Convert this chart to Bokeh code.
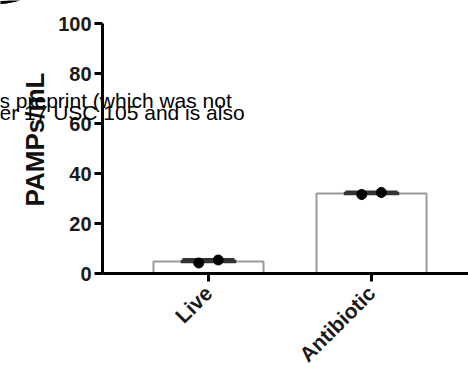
import numpy as np
from bokeh.plotting import figure
from bokeh.models import Range1d, FixedTicker, Label, ColumnDataSource, Whisker
from bokeh.embed import file_html
from bokeh.resources import INLINE

# PAMP concentration per condition (two replicates each)
categories = ["Live", "Antibiotic"]
live_values = [4.2, 5.4]
antibiotic_values = [31.6, 32.4]
y_ticks = [0, 20, 40, 60, 80, 100]

groups = [live_values, antibiotic_values]
xpos = np.arange(1, len(categories) + 1)
means = [float(np.mean(g)) for g in groups]
sds = [float(np.std(g, ddof=1)) for g in groups]

FONT = "Liberation Sans"
W, H = 468, 383
# the frame fills the canvas; axes sit at fixed data locations inside it
X_LO, X_HI = -0.276, 2.595
Y_LO, Y_HI = -44.0, 109.2
AXIS_X = 0.35  # where the y axis crosses


def px_to_data(px, py):
    """Canvas pixel (from top-left) to data coordinates."""
    return (X_LO + px * (X_HI - X_LO) / W, Y_HI - py * (Y_HI - Y_LO) / H)


p = figure(width=W, height=H, output_backend="svg", toolbar_location=None,
           x_range=Range1d(X_LO, X_HI), y_range=Range1d(Y_LO, Y_HI),
           min_border=0)
p.outline_line_color = None
p.grid.visible = False
p.background_fill_color = "white"
p.border_fill_color = "white"

# bars
p.vbar(x=xpos, top=means, width=0.675, bottom=0, fill_color="white",
       line_color="#9a9a9a", line_width=2)

# mean line and SD whiskers
bar_src = ColumnDataSource(dict(x=xpos, m=means,
                                lo=[m - s for m, s in zip(means, sds)],
                                hi=[m + s for m, s in zip(means, sds)]))
p.segment(x0=xpos - 0.17, x1=xpos + 0.17, y0=means, y1=means,
          line_color="#333333", line_width=3.5)
wh = Whisker(source=bar_src, base="x", lower="lo", upper="hi",
             line_color="#333333", line_width=2)
for head in (wh.upper_head, wh.lower_head):
    head.size = 52
    head.line_color = "#333333"
    head.line_width = 3
p.add_layout(wh)

# replicate points
offsets = np.array([-0.06, 0.06])
for xi, g in zip(xpos, groups):
    p.scatter(x=xi + offsets, y=g, size=10, fill_color="black", line_color="black")

# axes
for ax in (p.xaxis[0], p.yaxis[0]):
    ax.axis_line_width = 3
    ax.axis_line_color = "black"
    ax.major_tick_line_width = 3
    ax.major_tick_line_color = "black"
    ax.major_tick_out = 8
    ax.major_tick_in = 0
    ax.minor_tick_line_color = None
    ax.major_label_text_font = FONT
    ax.major_label_text_font_style = "bold"
    ax.major_label_text_font_size = "20px"
    ax.major_label_text_color = "#1a1a1a"

p.yaxis.ticker = FixedTicker(ticks=y_ticks)
p.yaxis.major_label_standoff = 3
p.yaxis.fixed_location = AXIS_X
p.yaxis.bounds = (0, 100)

p.xaxis.ticker = FixedTicker(ticks=list(xpos))
p.xaxis.major_label_overrides = {int(x): c for x, c in zip(xpos, categories)}
p.xaxis.major_label_orientation = np.pi / 4
p.xaxis.major_label_standoff = 8
p.xaxis.major_label_text_font_size = "21px"
p.xaxis.fixed_location = 0
p.xaxis.bounds = (AXIS_X, X_HI)

# y-axis title (screen units, origin at bottom-left of the canvas)
p.add_layout(Label(x=34, y=H - 139, x_units="screen", y_units="screen",
                   text="PAMPs/mL", angle=np.pi / 2, text_align="center",
                   text_baseline="middle", text_font=FONT, text_font_style="bold",
                   text_font_size="26px", text_color="#111111"))

# notice text printed across the panel
for txt, base in (("s preprint (which was not", 100), ("er 17 USC 105 and is also", 112)):
    p.add_layout(Label(x=-1, y=H - base, x_units="screen", y_units="screen",
                       text=txt, text_font=FONT, text_font_size="21px", text_color="black",
                       text_baseline="alphabetic"))

# edge of the panel-letter circle peeking in at the top-left corner
cx, cy = px_to_data(-2, -60)
p.arc(x=[cx], y=[cy], radius=62, radius_units="screen",
      start_angle=np.pi * 1.3, end_angle=np.pi * 1.7, direction="anticlock",
      line_color="black", line_width=3)

open("out.html", "w").write(file_html(p, INLINE))
